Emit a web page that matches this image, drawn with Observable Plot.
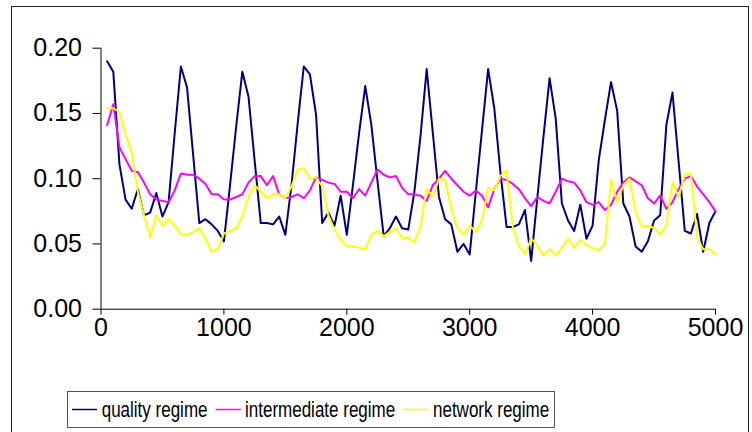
<!DOCTYPE html>
<html><head><meta charset="utf-8">
<script src="https://cdn.jsdelivr.net/npm/d3@7"></script>
<script src="https://cdn.jsdelivr.net/npm/@observablehq/plot@0.6"></script>
<style>
html,body{margin:0;padding:0;background:#fff;}
#wrap{position:relative;width:752px;height:432px;overflow:hidden;font-family:"Liberation Sans",Arial,sans-serif;background:#fff;}
#frame{position:absolute;left:11px;top:6px;width:738px;height:440px;border:1.5px solid #222;box-sizing:border-box;}
#chart{position:absolute;left:0;top:0;}
#legend{position:absolute;left:67px;top:391px;}
</style>
</head><body>
<div id="wrap"><div id="frame"></div><div id="chart"></div><div id="legend"></div></div>
<script>
const xs = [50, 100, 150, 200, 250, 300, 350, 400, 450, 500, 550, 600, 650, 700, 750, 800, 850, 900, 950, 1000,
  1050, 1100, 1150, 1200, 1250, 1300, 1350, 1400, 1450, 1500, 1550, 1600, 1650, 1700, 1750, 1800, 1850, 1900, 1950, 2000,
  2050, 2100, 2150, 2200, 2250, 2300, 2350, 2400, 2450, 2500, 2550, 2600, 2650, 2700, 2750, 2800, 2850, 2900, 2950, 3000,
  3050, 3100, 3150, 3200, 3250, 3300, 3350, 3400, 3450, 3500, 3550, 3600, 3650, 3700, 3750, 3800, 3850, 3900, 3950, 4000,
  4050, 4100, 4150, 4200, 4250, 4300, 4350, 4400, 4450, 4500, 4550, 4600, 4650, 4700, 4750, 4800, 4850, 4900, 4950, 5000];

const quality = [0.190, 0.182, 0.111, 0.084, 0.077, 0.092, 0.072, 0.074, 0.089, 0.071,
  0.082, 0.135, 0.186, 0.170, 0.118, 0.066, 0.069, 0.065, 0.060, 0.052,
  0.095, 0.140, 0.182, 0.163, 0.114, 0.066, 0.066, 0.065, 0.071, 0.057,
  0.095, 0.142, 0.186, 0.180, 0.149, 0.066, 0.074, 0.064, 0.087, 0.057,
  0.095, 0.135, 0.171, 0.141, 0.098, 0.056, 0.062, 0.071, 0.062, 0.061,
  0.090, 0.133, 0.184, 0.135, 0.086, 0.069, 0.065, 0.044, 0.050, 0.042,
  0.090, 0.137, 0.184, 0.154, 0.105, 0.063, 0.063, 0.065, 0.076, 0.037,
  0.085, 0.132, 0.177, 0.146, 0.081, 0.068, 0.060, 0.080, 0.054, 0.064,
  0.114, 0.145, 0.174, 0.152, 0.081, 0.071, 0.048, 0.044, 0.052, 0.068,
  0.072, 0.141, 0.166, 0.113, 0.060, 0.058, 0.073, 0.044, 0.066, 0.075];

const intermediate = [0.141, 0.157, 0.124, 0.115, 0.106, 0.105, 0.097, 0.088, 0.084, 0.083,
  0.082, 0.091, 0.104, 0.103, 0.103, 0.100, 0.096, 0.088, 0.088, 0.084,
  0.084, 0.086, 0.088, 0.097, 0.102, 0.102, 0.095, 0.102, 0.088, 0.085,
  0.086, 0.088, 0.085, 0.091, 0.101, 0.099, 0.097, 0.096, 0.090, 0.090,
  0.085, 0.092, 0.087, 0.097, 0.107, 0.103, 0.101, 0.102, 0.093, 0.088,
  0.088, 0.087, 0.083, 0.095, 0.100, 0.106, 0.100, 0.095, 0.090, 0.087,
  0.091, 0.087, 0.078, 0.092, 0.100, 0.099, 0.096, 0.092, 0.085, 0.079,
  0.086, 0.083, 0.081, 0.090, 0.100, 0.098, 0.097, 0.091, 0.082, 0.080,
  0.082, 0.076, 0.080, 0.090, 0.097, 0.101, 0.098, 0.095, 0.085, 0.081,
  0.087, 0.077, 0.082, 0.092, 0.100, 0.102, 0.094, 0.088, 0.082, 0.075];

const network = [0.154, 0.154, 0.151, 0.134, 0.120, 0.090, 0.072, 0.055, 0.072, 0.064,
  0.069, 0.064, 0.057, 0.057, 0.059, 0.062, 0.054, 0.044, 0.046, 0.058,
  0.060, 0.062, 0.071, 0.086, 0.095, 0.090, 0.085, 0.088, 0.088, 0.085,
  0.094, 0.107, 0.108, 0.100, 0.101, 0.094, 0.072, 0.061, 0.053, 0.048,
  0.048, 0.047, 0.046, 0.057, 0.060, 0.056, 0.059, 0.062, 0.054, 0.055,
  0.051, 0.063, 0.092, 0.086, 0.100, 0.099, 0.077, 0.062, 0.057, 0.064,
  0.059, 0.068, 0.093, 0.091, 0.102, 0.106, 0.063, 0.048, 0.042, 0.054,
  0.049, 0.041, 0.046, 0.041, 0.047, 0.054, 0.047, 0.053, 0.049, 0.047,
  0.045, 0.050, 0.099, 0.082, 0.095, 0.100, 0.074, 0.063, 0.064, 0.062,
  0.057, 0.064, 0.097, 0.086, 0.103, 0.104, 0.055, 0.046, 0.046, 0.042];

const seriesNames = ["quality regime", "intermediate regime", "network regime"];
const seriesColors = ["#000080", "#FF00FF", "#FFFF00"];
const xTicks = [0, 1000, 2000, 3000, 4000, 5000];
const yTicks = [0, 0.05, 0.10, 0.15, 0.20];

const seriesValues = [quality, intermediate, network];
const rows = [];
seriesNames.forEach((name, s) => xs.forEach((x, i) => rows.push({series: name, x, v: seriesValues[s][i]})));

const chart = Plot.plot({
  width: 752,
  height: 345,
  marginLeft: 100.5,
  marginRight: 37,
  marginTop: 47.7,
  marginBottom: 36.3,
  style: {background: "transparent", color: "#000", fontFamily: "'Liberation Sans', Arial, sans-serif"},
  x: {domain: [0, 5000]},
  y: {domain: [0, 0.20]},
  color: {domain: seriesNames, range: seriesColors},
  marks: [
    Plot.axisY({ticks: yTicks, tickFormat: d => d.toFixed(2), tickSize: 8, tickPadding: 11, fontSize: 25, label: null, stroke: "#000"}),
    Plot.axisX({ticks: xTicks, tickFormat: d => String(d), tickSize: 6, tickPadding: 3, fontSize: 25, label: null, stroke: "#000"}),
    Plot.ruleX([0], {stroke: "#000", strokeWidth: 1}),
    Plot.ruleY([0], {stroke: "#000", strokeWidth: 1}),
    Plot.line(rows, {x: "x", y: "v", z: "series", stroke: "series", strokeWidth: 2})
  ]
});
document.getElementById("chart").appendChild(chart);

// legend
const lw = 487, lh = 36;
const items = [
  {lx: 5, tx: 34.7},
  {lx: 148.7, tx: 178},
  {lx: 336, tx: 366}
];
const legend = d3.select("#legend").append("svg").attr("width", lw + 2).attr("height", lh + 2);
legend.append("rect").attr("x", 0.5).attr("y", 0.5).attr("width", lw).attr("height", lh)
  .attr("fill", "#fff").attr("stroke", "#555").attr("stroke-width", 1);
seriesNames.forEach((name, i) => {
  const it = items[i];
  legend.append("line").attr("x1", it.lx).attr("x2", it.lx + 25).attr("y1", 18.5).attr("y2", 18.5)
    .attr("stroke", seriesColors[i]).attr("stroke-width", 1.5);
  legend.append("text").attr("transform", `translate(${it.tx},26) scale(1,1.25)`).text(name)
    .attr("font-size", 17).attr("font-family", "'Liberation Sans', Arial, sans-serif")
    .attr("fill", "#000");
});
</script>
</body></html>
